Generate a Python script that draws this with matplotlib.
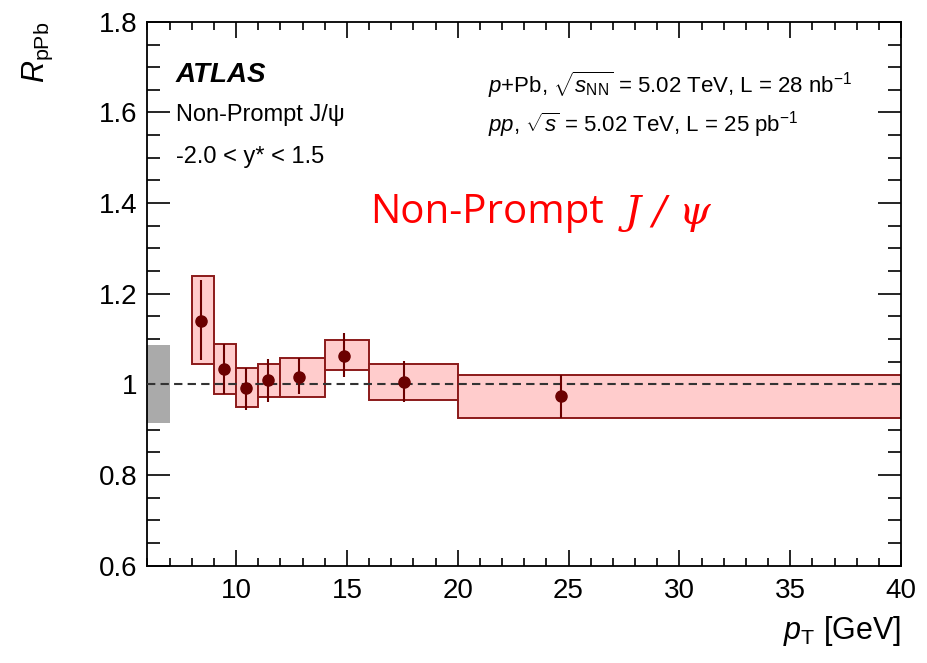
import matplotlib.pyplot as plt
from matplotlib.ticker import MultipleLocator
import numpy as np

# pT bins and nuclear modification factor of non-prompt J/psi
bin_lo = [8, 9, 10, 11, 12, 14, 16, 20]
bin_hi = [9, 10, 11, 12, 14, 16, 20, 40]
pt_mean = [8.44, 9.45, 10.43, 11.43, 12.83, 14.87, 17.58, 24.64]
r_ppb = [1.140, 1.034, 0.991, 1.010, 1.016, 1.063, 1.006, 0.974]
stat_up = [0.090, 0.055, 0.044, 0.045, 0.042, 0.050, 0.046, 0.047]
stat_dn = [0.086, 0.055, 0.048, 0.050, 0.038, 0.046, 0.046, 0.048]
syst_up = [0.098, 0.055, 0.044, 0.034, 0.042, 0.035, 0.038, 0.047]
syst_dn = [0.096, 0.055, 0.042, 0.039, 0.045, 0.031, 0.040, 0.048]
norm_unc = 0.086  # global normalisation uncertainty (grey box)

plt.rcParams['font.family'] = ['Liberation Sans', 'DejaVu Sans']
plt.rcParams['mathtext.fontset'] = 'custom'
plt.rcParams['mathtext.rm'] = 'Liberation Sans'
plt.rcParams['mathtext.it'] = 'Liberation Sans:italic'
plt.rcParams['mathtext.bf'] = 'Liberation Sans:bold'


def plot_rppb():
    fig = plt.figure(figsize=(9.27, 6.63), dpi=100)
    ax = fig.add_axes([0.159, 0.147, 0.813, 0.820])

    lo = np.array(bin_lo)
    hi = np.array(bin_hi)
    r = np.array(r_ppb)
    su = np.array(syst_up)
    sd = np.array(syst_dn)

    # systematic boxes
    ax.bar(lo, su + sd, width=hi - lo, bottom=r - sd, align='edge',
           color='#ffcccc', edgecolor='#8b1a1a', linewidth=1.4, zorder=2)
    # normalisation box
    ax.bar(6, 2 * norm_unc, width=1, bottom=1 - norm_unc, align='edge',
           color='#aaaaaa', linewidth=0, zorder=2)

    ax.axhline(1.0, color='#333333', linestyle=(0, (4, 2.5)), linewidth=1.5, zorder=3)

    ax.errorbar(pt_mean, r, yerr=[stat_dn, stat_up], fmt='o', color='#6b0000',
                markersize=8, elinewidth=1.5, capsize=0, zorder=4)

    ax.set_xlim(6, 40)
    ax.set_ylim(0.6, 1.8)
    ax.xaxis.set_major_locator(MultipleLocator(5))
    ax.xaxis.set_minor_locator(MultipleLocator(1))
    ax.yaxis.set_major_locator(MultipleLocator(0.2))
    ax.yaxis.set_minor_locator(MultipleLocator(0.05))
    ax.set_yticks([0.6, 0.8, 1.0, 1.2, 1.4, 1.6, 1.8])
    ax.set_yticklabels(['0.6', '0.8', '1', '1.2', '1.4', '1.6', '1.8'])
    ax.tick_params(axis='both', which='both', direction='in', top=True, right=True,
                   labelsize=20, width=1.2)
    ax.tick_params(axis='x', which='major', length=11.5, pad=9)
    ax.tick_params(axis='x', which='minor', length=6)
    ax.tick_params(axis='y', which='major', length=16.5, pad=7)
    ax.tick_params(axis='y', which='minor', length=9.5)
    for sp in ax.spines.values():
        sp.set_linewidth(1.3)

    ax.set_xlabel(r'$p_{\mathrm{T}}$ [GeV]', fontsize=22, loc='right')
    ax.xaxis.set_label_coords(1.0, -0.09)
    ax.set_ylabel(r'$R_{\mathrm{pPb}}$', fontsize=22, loc='top')
    ax.yaxis.set_label_coords(-0.123, 1.0)

    ax.text(0.038, 0.902, 'ATLAS', transform=ax.transAxes, fontsize=20,
            fontweight='bold', fontstyle='italic', va='center')
    ax.text(0.038, 0.828, 'Non-Prompt J/ψ', transform=ax.transAxes, fontsize=17, va='center')
    ax.text(0.038, 0.751, '-2.0 < y* < 1.5', transform=ax.transAxes, fontsize=17, va='center')
    ax.text(0.452, 0.885, r'$p$+Pb, $\sqrt{s_{\mathrm{NN}}}$ = 5.02 TeV, L = 28 nb$^{-1}$',
            transform=ax.transAxes, fontsize=16, va='center')
    ax.text(0.452, 0.810, r'$pp$, $\sqrt{s}$ = 5.02 TeV, L = 25 pb$^{-1}$',
            transform=ax.transAxes, fontsize=16, va='center')

    ax.text(0.296, 0.648, 'Non-Prompt', transform=ax.transAxes, fontsize=29,
            color='red', family='Open Sans', va='center')
    ax.text(0.634, 0.648, 'J / ψ', transform=ax.transAxes, fontsize=29,
            color='red', family='DejaVu Serif', fontstyle='italic', va='center')

    fig.savefig('out.png', dpi=100)


if __name__ == "__main__":
    plot_rppb()
